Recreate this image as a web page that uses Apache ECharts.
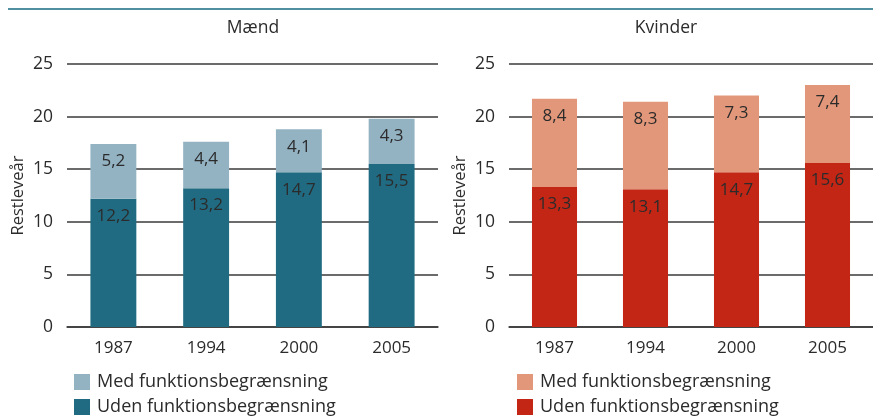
<!DOCTYPE html>
<html>
<head>
<meta charset="utf-8">
<script src="https://cdn.jsdelivr.net/npm/echarts@6/dist/echarts.min.js"></script>
<style>
  html, body { margin: 0; padding: 0; background: #fff; }
  #chart { width: 873px; height: 419px; }
</style>
</head>
<body>
<div id="chart"></div>
<script>
// Remaining life expectancy (years), split by functional limitation
const years = ['1987', '1994', '2000', '2005'];
const menWithout = [12.2, 13.2, 14.7, 15.5];
const menWith = [5.2, 4.4, 4.1, 4.3];
const womenWithout = [13.3, 13.1, 14.7, 15.6];
const womenWith = [8.4, 8.3, 7.3, 7.4];
const yTicks = [0, 5, 10, 15, 20, 25];
const panelTitles = ['Mænd', 'Kvinder'];
const seriesNames = ['Med funktionsbegrænsning', 'Uden funktionsbegrænsning'];
const yName = 'Restleveår';

const FONT = '"Open Sans", "Noto Sans", sans-serif';
const TEXT = '#2b2b2b';
const colors = {
  menDark: '#216b82', menLight: '#93b3c3',
  womenDark: '#c42616', womenLight: '#e3977a'
};

const fmt = v => String(v).replace('.', ',');

function xAxis(gridIndex) {
  return {
    type: 'category', gridIndex, data: years,
    axisLine: { lineStyle: { color: '#3a3a3a', width: 1.5 } },
    axisTick: { show: false },
    axisLabel: { color: TEXT, fontFamily: FONT, fontSize: 17, margin: 13 }
  };
}
function yAxis(gridIndex) {
  return {
    type: 'value', gridIndex, min: yTicks[0], max: yTicks[yTicks.length - 1], interval: 5,
    name: yName, nameLocation: 'middle', nameGap: 40,
    nameTextStyle: { color: TEXT, fontFamily: FONT, fontSize: 16.5 },
    axisLine: { show: false }, axisTick: { show: false },
    axisLabel: { color: TEXT, fontFamily: FONT, fontSize: 17.5, margin: 14 },
    splitLine: { lineStyle: { color: '#3a3a3a', width: 1.5 } }
  };
}
function bar(name, data, color, axisIdx) {
  return {
    name, type: 'bar', stack: 'p' + axisIdx, data,
    xAxisIndex: axisIdx, yAxisIndex: axisIdx,
    barWidth: '49.5%', itemStyle: { color },
    label: {
      show: true, position: 'insideTop', distance: 9,
      color: TEXT, fontFamily: FONT, fontSize: 17,
      formatter: p => fmt(p.value)
    }
  };
}
// one legend entry per box so each can be placed on its own row
function legendItem(left, top, name) {
  return {
    left, top, orient: 'horizontal', itemWidth: 16, itemHeight: 16,
    icon: 'rect',
    textStyle: { color: TEXT, fontFamily: FONT, fontSize: 18, padding: [0, 0, 0, 2] },
    data: [name],
    formatter: n => n.trim()
  };
}

const chart = echarts.init(document.getElementById('chart'));
chart.setOption({
  animation: false,
  backgroundColor: '#fff',
  grid: [
    { left: 67, width: 371, top: 64, bottom: 92 },
    { left: 509, width: 372, top: 64, bottom: 92 }
  ],
  xAxis: [xAxis(0), xAxis(1)],
  yAxis: [yAxis(0), yAxis(1)],
  legend: [
    legendItem(69, 368, seriesNames[0]),
    legendItem(69, 393, seriesNames[1]),
    legendItem(512, 368, ' ' + seriesNames[0]),
    legendItem(512, 393, ' ' + seriesNames[1])
  ],
  series: [
    bar(seriesNames[1], menWithout, colors.menDark, 0),
    bar(seriesNames[0], menWith, colors.menLight, 0),
    bar(' ' + seriesNames[1], womenWithout, colors.womenDark, 1),
    bar(' ' + seriesNames[0], womenWith, colors.womenLight, 1)
  ],
  graphic: [
    { type: 'rect', shape: { x: 8, y: 8, width: 865, height: 2 }, style: { fill: '#4f8f9f' } },
    { type: 'text', left: 10, top: -17, style: { text: 'g', font: 'bold 17px ' + FONT, fill: '#111' } },
    { type: 'text', style: { text: panelTitles[0], x: 253, y: 28, textAlign: 'center', textVerticalAlign: 'middle', font: '17.5px ' + FONT, fill: TEXT } },
    { type: 'text', style: { text: panelTitles[1], x: 666, y: 28, textAlign: 'center', textVerticalAlign: 'middle', font: '17.5px ' + FONT, fill: TEXT } }
  ]
});
</script>
</body>
</html>
